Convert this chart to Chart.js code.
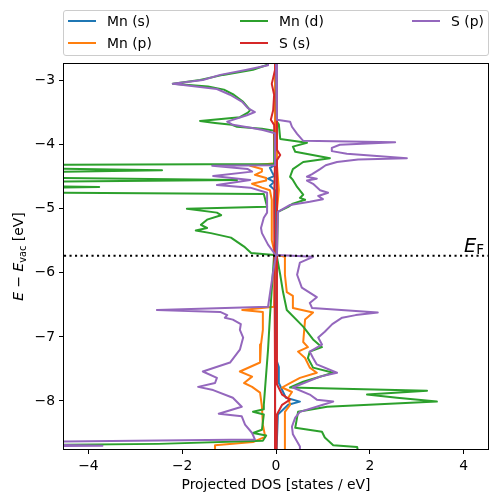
<!DOCTYPE html>
<html>
<head>
<meta charset="utf-8">
<script src="https://cdn.jsdelivr.net/npm/chart.js@4.4.1/dist/chart.umd.min.js"></script>
<style>
  body { margin: 0; background: #fff; }
  #wrap { position: relative; width: 498px; height: 502px; }
  #legendBox { position: absolute; left: 63px; top: 10px; width: 424px; height: 44px;
    border: 1px solid #ccc; border-radius: 3px; background: rgba(255,255,255,.8); }
  .lg-line { position: absolute; height: 2px; width: 28px; }
  .lg-text { position: absolute; font: 13.9px 'DejaVu Sans'; line-height: 16px; color: #000; white-space: nowrap; }
</style>
</head>
<body>
<div id="wrap">
  <canvas id="c" width="498" height="502"></canvas>
  <div id="legendBox"></div>
</div>
<script>
// --- data (energies in eV, DOS in states/eV; spin down plotted negative) -----
const species = ['Mn (s)', 'Mn (p)', 'Mn (d)', 'S (s)', 'S (p)'];
const colors = ['#1f77b4', '#ff7f0e', '#2ca02c', '#d62728', '#9467bd'];
const xTicks = [-4, -2, 0, 2, 4];
const yTicks = [-8, -7, -6, -5, -4, -3];
const fermiE = -5.735;

const mnS_upE = [-2.71, -7.36, -7.47, -7.72, -7.95, -8.01, -8.06, -8.21, -8.79];
const mnS_up  = [0.01, 0.01, 0.06, 0.06, 0.21, 0.51, 0.26, 0.04, 0.01];
const mnS_dnE = [-2.71, -4.32, -4.36, -4.42, -4.49, -4.53, -4.58, -4.64, -4.71, -8.79];
const mnS_dn  = [-0.02, -0.02, -0.13, -0.09, -0.04, -0.17, -0.04, -0.13, -0.02, -0.02];

const mnP_upE = [-2.71, -4.32, -4.71, -5.02, -5.72, -5.75, -6.03, -6.30, -6.36, -6.55, -6.62, -6.73, -7.08,
  -7.16, -7.23, -7.33, -7.48, -7.56, -7.64, -7.72, -7.79, -7.86, -7.95, -8.06, -8.17, -8.79];
const mnP_up  = [0, 0.02, 0.06, 0.02, 0.02, 0.19, 0.19, 0.23, 0.36, 0.36, 0.79, 0.62, 0.58,
  0.68, 0.47, 0.62, 0.72, 0.87, 0.51, 0.30, 0.13, 0.34, 0.26, 0.30, 0.19, 0.19];
const mnP_dnE = [-2.71, -4.29, -4.33, -4.38, -4.42, -4.47, -4.52, -4.56, -4.61, -4.67, -4.71, -4.86, -5.49,
  -5.72, -6.53, -6.58, -6.61, -6.89, -7.12, -7.40, -7.54, -7.62, -7.72, -7.78, -7.87, -8.09, -8.37, -8.56,
  -8.64, -8.69, -8.79];
const mnP_dn  = [-0.02, -0.02, -0.55, -0.30, -0.30, -0.45, -0.21, -0.21, -0.51, -0.30, -0.13, -0.09, -0.09,
  -0.02, -0.04, -0.72, -0.28, -0.28, -0.32, -0.34, -0.77, -0.51, -0.68, -0.51, -0.34, -0.30, -0.28, -0.23,
  -0.49, -1.30, -1.30];

const mnD_upE = [-2.71, -3.64, -3.68, -3.91, -3.97, -4.03, -4.11, -4.21, -4.27, -4.38, -4.50, -4.55, -4.66,
  -4.78, -4.83, -4.86, -4.92, -4.97, -5.05, -5.72, -5.75, -6.03, -6.30, -6.58, -6.84, -7.04, -7.16, -7.23,
  -7.33, -7.48, -7.56, -7.70, -7.79, -7.84, -7.90, -7.95, -8.01, -8.09, -8.17, -8.42, -8.48, -8.57, -8.69,
  -8.72, -8.79];
const mnD_up  = [0, 0.02, 0.06, 0.09, 0.66, 0.36, 0.41, 1.15, 0.58, 0.36, 0.30, 0.36, 0.45,
  0.58, 0.51, 0.62, 0.36, 0.26, 0.04, 0.02, 0.02, 0.09, 0.15, 0.23, 0.58, 0.79, 0.98, 0.72,
  0.68, 0.79, 1.22, 0.58, 0.30, 3.22, 1.94, 2.58, 3.43, 1.09, 0.47, 0.41, 0.98, 1.04, 1.22,
  1.73, 1.75];
const mnD_dnE = [-2.71, -2.76, -2.83, -2.91, -2.99, -3.05, -3.09, -3.14, -3.22, -3.33, -3.46, -3.50, -3.57,
  -3.63, -3.66, -3.69, -3.72, -3.75, -3.78, -4.30, -4.32, -4.35, -4.40, -4.45, -4.50, -4.55, -4.59, -4.62,
  -4.66, -4.69, -4.74, -4.77, -4.97, -5.00, -5.06, -5.10, -5.17, -5.25, -5.30, -5.34, -5.38, -5.45, -5.59,
  -5.69, -5.72, -6.69, -7.20, -8.06, -8.13, -8.17, -8.21, -8.45, -8.50, -8.54, -8.62, -8.67, -8.70, -8.79];
const mnD_dn  = [-0.17, -0.21, -0.49, -1.13, -1.62, -2.20, -1.45, -1.11, -0.90, -0.70, -0.55, -0.60, -0.77,
  -1.62, -1.30, -0.94, -0.83, -0.30, -0.04, -0.04, -7, -7, -2.43, -7, -7, -0.83, -7, -7,
  -3.77, -7, -7, -0.26, -0.19, -1.90, -1.26, -1.17, -1.47, -1.60, -1.47, -1.71, -1.39, -0.96, -0.68,
  -0.53, -0.04, -0.13, -0.17, -0.26, -0.26, -0.49, -0.26, -0.30, -0.49, -0.21, -0.28, -2.5, -7, -7];

const sS_upE = [-2.71, -4.08, -4.16, -4.24, -7.74, -7.90, -7.98, -8.06, -8.21, -8.79];
const sS_up  = [0.01, 0.02, 0.09, 0.02, 0.02, 0.13, 0.30, 0.13, 0.02, 0.01];
const sS_dnE = [-2.71, -2.83, -3.05, -3.22, -3.46, -3.61, -3.69, -4.24, -4.86, -7.67, -8.79];
const sS_dn  = [-0.02, -0.02, -0.09, -0.04, -0.06, -0.11, -0.04, -0.02, -0.04, -0.02, -0.02];

const sP_upE = [-2.71, -3.61, -3.64, -3.72, -3.83, -3.94, -3.96, -4.00, -4.05, -4.10, -4.14, -4.21, -4.23,
  -4.27, -4.32, -4.38, -4.46, -4.50, -4.53, -4.56, -4.61, -4.71, -4.75, -4.80, -4.85, -4.89, -4.94, -5.05,
  -5.72, -5.75, -5.84, -6.03, -6.23, -6.38, -6.47, -6.55, -6.62, -6.66, -6.70, -6.80, -6.92, -7.01, -7.12,
  -7.23, -7.33, -7.43, -7.56, -7.62, -7.79, -7.90, -7.98, -8.01, -8.06, -8.17, -8.26, -8.40, -8.52, -8.71,
  -8.79];
const sP_up  = [0, 0.02, 0.30, 0.34, 0.45, 0.58, 2.54, 1.36, 1.19, 1.19, 1.51, 2.79, 1.75,
  1.30, 1.06, 0.94, 0.77, 0.66, 0.87, 0.66, 0.79, 0.94, 1.11, 0.90, 1.00, 0.72, 0.30, 0.04,
  0.02, 0.79, 0.51, 0.45, 0.55, 0.87, 0.72, 0.77, 2.17, 1.70, 1.41, 1.20, 1.04, 0.90, 0.98,
  0.72, 0.79, 0.87, 1.30, 0.94, 0.36, 0.72, 0.87, 1.22, 1.00, 0.51, 0.41, 0.34, 0.36, 0.51,
  0.51];
const sP_dnE = [-2.71, -2.76, -2.83, -2.91, -2.99, -3.05, -3.10, -3.13, -3.22, -3.33, -3.43, -3.49, -3.54,
  -3.64, -3.69, -3.74, -3.77, -3.82, -4.32, -4.33, -4.38, -4.42, -4.49, -4.55, -4.63, -4.67, -4.75, -5.06,
  -5.14, -5.30, -5.38, -5.56, -5.69, -5.73, -5.98, -6.53, -6.58, -6.61, -6.66, -6.70, -6.73, -6.80, -6.89,
  -7.01, -7.20, -7.40, -7.54, -7.64, -7.72, -7.78, -7.83, -7.95, -8.09, -8.20, -8.24, -8.37, -8.50, -8.60,
  -8.65, -8.70, -8.72, -8.79];
const sP_dn  = [-0.17, -0.17, -0.62, -1.19, -1.56, -2.20, -1.62, -1.26, -0.98, -0.72, -0.60, -0.45, -0.62,
  -1.04, -0.92, -0.51, -0.28, -0.02, -0.02, -1.36, -0.60, -0.51, -1.34, -0.55, -1.26, -0.55, -0.19, -0.19,
  -0.26, -0.32, -0.30, -0.17, -0.04, 0, -0.06, -0.17, -2.54, -1.19, -1.04, -1.09, -0.92, -0.75, -0.77,
  -0.70, -0.77, -0.98, -1.56, -1.26, -1.30, -1.66, -1.34, -0.92, -0.73, -1.22, -0.73, -0.66, -0.51, -0.45,
  -7, -3.7, -7, -7];

const curves = [
  [mnS_upE, mnS_up, mnS_dnE, mnS_dn],
  [mnP_upE, mnP_up, mnP_dnE, mnP_dn],
  [mnD_upE, mnD_up, mnD_dnE, mnD_dn],
  [sS_upE, sS_up, sS_dnE, sS_dn],
  [sP_upE, sP_up, sP_dnE, sP_dn],
];

// --- build datasets --------------------------------------------------------
const FONT = 'DejaVu Sans';
const pts = (E, d) => E.map((e, i) => ({ x: d[i], y: e }));
const datasets = [];
curves.forEach(([upE, up, dnE, dn], i) => {
  [[upE, up], [dnE, dn]].forEach(([E, d]) => {
    datasets.push({
      label: species[i], data: pts(E, d), showLine: true,
      borderColor: colors[i], backgroundColor: colors[i], borderWidth: 2,
      borderJoinStyle: 'round', pointRadius: 0, tension: 0,
      order: 100 - datasets.length, // later series on top, like matplotlib
    });
  });
});

// legend (matplotlib style, 3 columns filled column-wise)
const wrap = document.getElementById('wrap');
species.forEach((name, i) => {
  const col = Math.floor(i / 2), row = i % 2;
  const cy = 21 + row * 21.7;
  const ln = document.createElement('div');
  ln.className = 'lg-line';
  ln.style.cssText = `left:${68 + col * 172}px;top:${cy - 1}px;background:${colors[i]}`;
  const tx = document.createElement('div');
  tx.className = 'lg-text';
  tx.style.cssText = `left:${107 + col * 172}px;top:${cy - 8}px`;
  tx.textContent = name;
  wrap.append(ln, tx);
});

const minus = (v) => String(v).replace('-', '\u2212');

// frame, Fermi level, axis titles
const decor = {
  id: 'decor',
  afterDatasetsDraw(chart) {
    const { ctx, chartArea: a, scales } = chart;
    const yF = scales.y.getPixelForValue(fermiE);
    ctx.save();
    ctx.strokeStyle = '#000';
    ctx.lineWidth = 2;
    ctx.setLineDash([2.1, 3.4]);
    ctx.beginPath(); ctx.moveTo(a.left, yF); ctx.lineTo(a.right, yF); ctx.stroke();
    ctx.setLineDash([]);
    ctx.lineWidth = 1;
    ctx.strokeRect(a.left - 0.5, a.top - 0.5, a.right - a.left + 1, a.bottom - a.top + 1);

    // E_F label
    ctx.fillStyle = '#000';
    ctx.textBaseline = 'alphabetic';
    ctx.font = `13.6px '${FONT}'`;
    const wF = ctx.measureText('F').width;
    ctx.font = `italic 19.4px '${FONT}'`;
    const wE = ctx.measureText('E').width;
    const xR = a.right - 4;
    ctx.fillText('E', xR - wF - wE, yF - 4);
    ctx.font = `13.6px '${FONT}'`;
    ctx.fillText('F', xR - wF, yF - 1.5);

    // x title
    ctx.font = `13.9px '${FONT}'`;
    ctx.textAlign = 'center';
    ctx.fillText('Projected DOS [states / eV]', (a.left + a.right) / 2, 489);

    // y title, rotated, with subscript
    const parts = [
      ['E', `italic 13.9px '${FONT}'`, 0],
      [' \u2212 ', `13.9px '${FONT}'`, 0],
      ['E', `italic 13.9px '${FONT}'`, 0],
      ['vac', `9.7px '${FONT}'`, 2.5],
      [' [eV]', `13.9px '${FONT}'`, 0],
    ];
    let total = 0;
    parts.forEach((p) => { ctx.font = p[1]; total += ctx.measureText(p[0]).width; });
    ctx.translate(23, (a.top + a.bottom) / 2);
    ctx.rotate(-Math.PI / 2);
    ctx.textAlign = 'left';
    let x = -total / 2;
    parts.forEach(([t, f, dy]) => { ctx.font = f; ctx.fillText(t, x, dy); x += ctx.measureText(t).width; });
    ctx.restore();
  },
};

const axisCommon = {
  type: 'linear',
  grid: { drawOnChartArea: false, drawTicks: true, tickLength: 5, tickColor: '#000', tickWidth: 1 },
  border: { display: false },
  ticks: { color: '#000', font: { family: FONT, size: 13.9 }, padding: 4, maxRotation: 0, callback: minus },
};

new Chart(document.getElementById('c'), {
  type: 'scatter',
  data: { datasets },
  options: {
    responsive: false, animation: false, events: [],
    layout: { padding: { top: 64, right: 10, left: 0, bottom: 0 } },
    plugins: { legend: { display: false }, tooltip: { enabled: false } },
    scales: {
      x: { ...axisCommon, min: -4.52, max: 4.52,
        afterBuildTicks: (s) => { s.ticks = xTicks.map((v) => ({ value: v })); },
        afterFit: (s) => { s.height = 53; } },
      y: { ...axisCommon, min: -8.75, max: -2.74,
        afterBuildTicks: (s) => { s.ticks = yTicks.map((v) => ({ value: v })); },
        afterFit: (s) => { s.width = 64; } },
    },
  },
  plugins: [decor],
});
</script>
</body>
</html>
